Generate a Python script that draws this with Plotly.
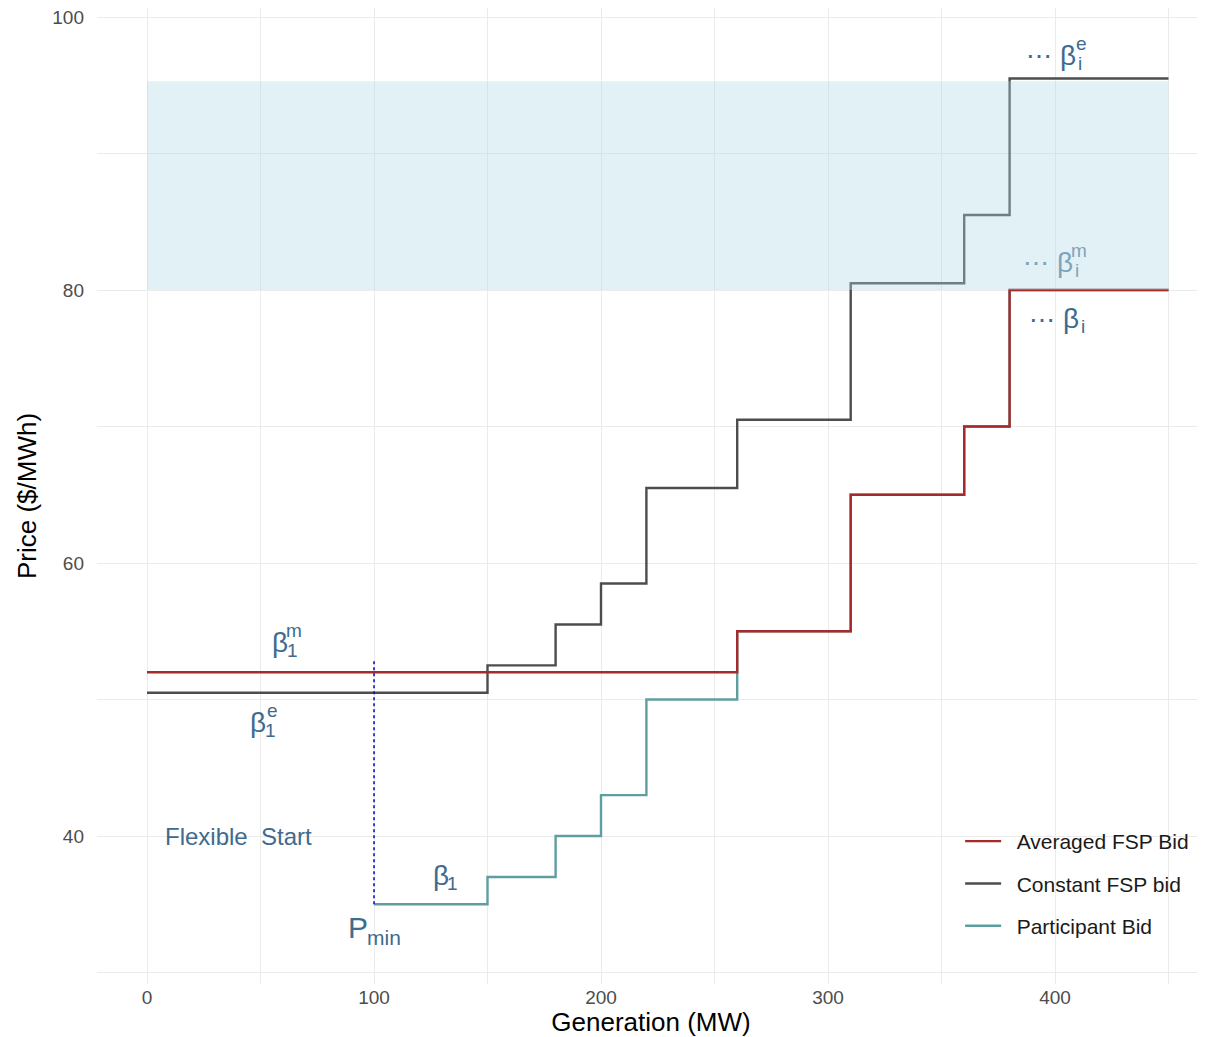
import plotly.graph_objects as go

# ---- data ----
participant_x = [100, 150, 180, 200, 220, 260, 310, 360, 380, 450]
participant_y = [35, 37, 40, 43, 50, 55, 65, 70, 80, 80]

averaged_x = [0, 260, 310, 360, 380, 450]
averaged_y = [52, 55, 65, 70, 80, 80]

constant_x = [0, 150, 180, 200, 220, 260, 310, 360, 380, 450]
constant_y = [50.5, 52.5, 55.5, 58.5, 65.5, 70.5, 80.5, 85.5, 95.5, 95.5]

band_x = [0, 450]
band_y = [80, 95.3]

pmin_x = 100
pmin_y = [35, 53]

x_ticks = [0, 100, 200, 300, 400]
y_ticks = [40, 60, 80, 100]

FONT = "Liberation Sans, Arial, sans-serif"
TXT = "#3e6b8f"
TXT_LIGHT = "#7fa3bd"
SP = "\u2002"

fig = go.Figure()
fig.add_trace(go.Scatter(x=participant_x, y=participant_y, mode="lines", line_shape="hv",
                         line=dict(color="#5f9ea0", width=2.4), name=SP + "Participant Bid",
                         legendrank=3, legendgroup="c"))
fig.add_trace(go.Scatter(x=constant_x, y=constant_y, mode="lines", line_shape="hv",
                         line=dict(color="#4d4d4d", width=2.4), name=SP + "Constant FSP bid",
                         legendrank=2, legendgroup="b"))
fig.add_trace(go.Scatter(x=averaged_x, y=averaged_y, mode="lines", line_shape="hv",
                         line=dict(color="#a52a2a", width=2.4), name=SP + "Averaged FSP Bid",
                         legendrank=1, legendgroup="a"))

# dotted P_min line
fig.add_trace(go.Scatter(x=[pmin_x, pmin_x], y=pmin_y, mode="lines",
                         line=dict(color="#1010c8", width=1.6, dash="dot"),
                         showlegend=False, hoverinfo="skip"))

# shaded band (drawn above lines)
fig.add_shape(type="rect", x0=band_x[0], x1=band_x[1], y0=band_y[0], y1=band_y[1],
              xref="x", yref="y", fillcolor="rgba(173,216,230,0.36)", line_width=0,
              layer="above")


def greek(x, y, sup=None, sub=None, color=TXT, dots=False, size=28):
    fig.add_annotation(x=x, y=y, text="β", showarrow=False,
                       font=dict(family=FONT, size=size, color=color))
    if sup:
        fig.add_annotation(x=x, y=y, text=sup, showarrow=False, xshift=14, yshift=12,
                           font=dict(family=FONT, size=19, color=color))
    if sub:
        fig.add_annotation(x=x, y=y, text=sub, showarrow=False, xshift=12, yshift=-8,
                           font=dict(family=FONT, size=19, color=color))
    if dots:
        fig.add_annotation(x=x, y=y, text="\u22ef", showarrow=False, xshift=-29, yshift=-1,
                           font=dict(family=FONT, size=26, color=color))


greek(58.6, 54.2, sup="m", sub="1")
greek(48.9, 48.35, sup="e", sub="1")
greek(129.5, 37.1, sub="1")
greek(405.7, 97.2, sup="e", sub="i", dots=True)
greek(404.4, 82.05, sup="m", sub="i", dots=True, color=TXT_LIGHT)
greek(407, 77.9, sub="i", dots=True)

fig.add_annotation(x=93, y=33.3, text="P", showarrow=False,
                   font=dict(family=FONT, size=30, color=TXT))
fig.add_annotation(x=93, y=33.3, text="min", showarrow=False, xshift=26, yshift=-10,
                   font=dict(family=FONT, size=21, color=TXT))
fig.add_annotation(x=40.1, y=40, text="Flexible\u00a0\u00a0Start", showarrow=False,
                   font=dict(family=FONT, size=24, color=TXT))

grid = "#ebebeb"
fig.update_layout(
    width=1197, height=1029,
    margin=dict(l=89, r=0, t=0, b=53, autoexpand=False),
    plot_bgcolor="white", paper_bgcolor="white",
    font=dict(family=FONT),
    showlegend=True,
    legend=dict(x=0.779, y=0.167, xanchor="left", yanchor="top",
                font=dict(size=21, color="#1a1a1a"), bgcolor="rgba(0,0,0,0)",
                tracegroupgap=12, traceorder="grouped", itemwidth=36),
    xaxis=dict(range=[-22.03, 466.08], tickvals=x_ticks, showline=False, zeroline=False,
               gridcolor=grid, gridwidth=1.3, ticks="", automargin=False,
               ticklabeloverflow="allow",
               minor=dict(dtick=50, tick0=0, showgrid=True, gridcolor=grid, gridwidth=0.8),
               tickfont=dict(size=19, color="#4d4d4d"),
               title=dict(text="Generation (MW)", font=dict(size=26, color="black"), standoff=3)),
    yaxis=dict(range=[29.16, 100.66], tickvals=y_ticks, showline=False, zeroline=False,
               gridcolor=grid, gridwidth=1.3, ticks="", automargin=False, ticklabelstandoff=12,
               ticklabeloverflow="allow",
               minor=dict(dtick=10, tick0=0, showgrid=True, gridcolor=grid, gridwidth=0.8),
               tickfont=dict(size=19, color="#4d4d4d"),
               title=dict(text="Price ($/MWh)", font=dict(size=26, color="black"), standoff=8)),
)

fig.write_html("out.html")
